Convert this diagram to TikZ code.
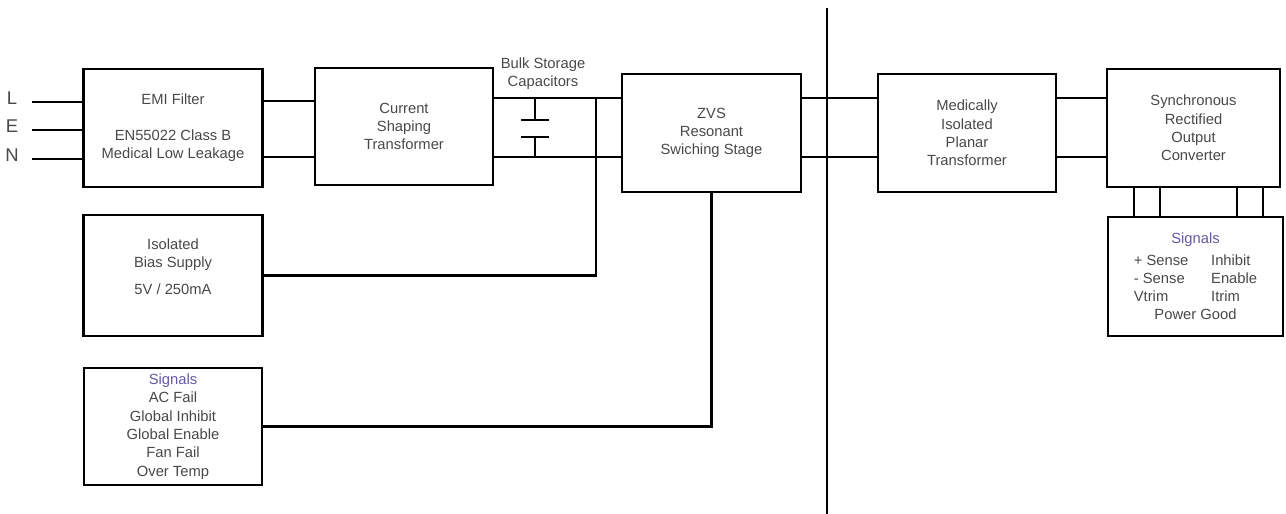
\documentclass[tikz,border=0pt]{standalone}
\usepackage{fontspec}
\setmainfont{Liberation Sans}
\usepackage{tikz}
\usepackage{xcolor}
\usetikzlibrary{calc,positioning}
\definecolor{txtgray}{RGB}{72,72,72}
\definecolor{sigblue}{RGB}{98,88,170}

\begin{document}
\begin{tikzpicture}[x=0.02cm,y=-0.02cm,
  every node/.style={font=\fontsize{8.4}{10.4}\selectfont,text=txtgray,align=center},
  blk/.style={draw=black,line width=1.35pt,minimum width=3.58cm,minimum height=2.36cm,inner sep=1pt},
  wire/.style={line width=1.35pt}]
  \useasboundingbox (0,0) rectangle (1286,514);
  % 主功率通路
  \node[blk] (emi) at (173,128) {EMI Filter\\[10pt]EN55022 Class B\\Medical Low Leakage};
  \node[blk,minimum width=3.56cm,minimum height=2.34cm] (cst) at (404,126.5) {Current\\Shaping\\Transformer};
  \node[blk] (zvs) at (711.5,133) {ZVS\\Resonant\\Swiching Stage};
  \node[blk,minimum width=3.56cm] (mit) at (967,133) {Medically\\Isolated\\Planar\\Transformer};
  \node[blk,minimum width=3.46cm] (sync) at (1193.5,128) {Synchronous\\Rectified\\Output\\Converter};
  \node[blk,minimum width=3.5cm,minimum height=2.38cm] (sigR) at (1195.5,276.5)
    {\textcolor{sigblue}{Signals}\\[2pt]
     \begin{tabular}{@{}p{44pt}@{}l@{}}+ Sense&Inhibit\\- Sense&Enable\\Vtrim&Itrim\end{tabular}\\
     Power Good};
  \node[blk,minimum height=2.42cm] (bias) at (173,275.5) {Isolated\\Bias Supply\\[5pt]5V / 250mA\\\mbox{}};
  \node[blk,minimum width=3.56cm,minimum height=2.34cm] (sigL) at (173,426.5)
    {\textcolor{sigblue}{Signals}\\AC Fail\\Global Inhibit\\Global Enable\\Fan Fail\\Over Temp};
  \node (bulk) at (543,74) {Bulk Storage\\Capacitors};

  % 输入 L E N
  \foreach \n/\py in {L/102,E/130,N/159} {
    \node[font=\fontsize{10.5}{12}\selectfont] (lbl\n) at (12,\py-4) {\n};
    \coordinate (in\n) at (32,\py);
    \draw[wire] (in\n) -- (emi.west |- in\n);
  }

  \coordinate (busA) at (0,101);
  \coordinate (busB) at (0,98);
  \coordinate (busN) at (0,157);
  \draw[wire] (emi.east |- busA) -- (cst.west |- busA);
  \draw[wire] (emi.east |- busN) -- (cst.west |- busN);
  \foreach \a/\b in {cst/zvs,zvs/mit,mit/sync} {
    \draw[wire] (\a.east |- busB) -- (\b.west |- busB);
    \draw[wire] (\a.east |- busN) -- (\b.west |- busN);
  }

  % 电容
  \coordinate (capT) at (535,120);
  \coordinate (capB) at (535,137);
  \draw[wire] (capT |- busB) -- (capT);
  \draw[wire] (capB) -- (capB |- busN);
  \draw[wire] ($(capT)+(-14,0)$) -- ($(capT)+(14,0)$);
  \draw[wire] ($(capB)+(-14,0)$) -- ($(capB)+(14,0)$);

  \coordinate (jn) at (596,98);
  \draw[wire] (bias.east) -| (jn);
  \draw[wire] (sigL.east) -| (zvs.south);

  % 隔离线
  \coordinate (isoT) at (827,8);
  \coordinate (isoB) at (827,514);
  \draw[wire] (isoT) -- (isoB);

  \foreach \px in {1134,1160,1237,1263}
    \draw[wire] (sync.south -| \px,0) -- (sigR.north -| \px,0);
\end{tikzpicture}
\end{document}
